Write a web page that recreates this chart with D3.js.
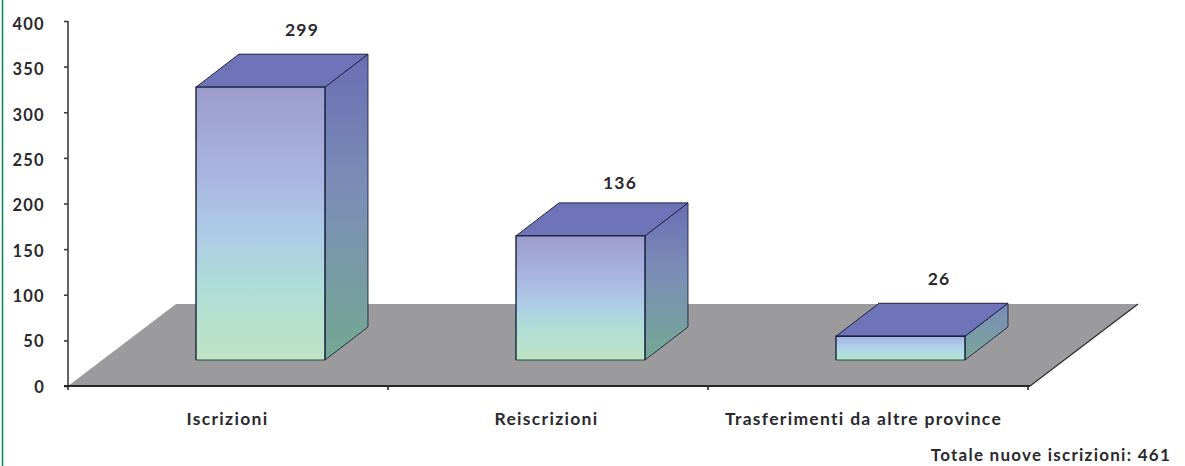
<!DOCTYPE html>
<html><head><meta charset="utf-8">
<script src="https://cdn.jsdelivr.net/npm/d3@7/dist/d3.min.js"></script>
<style>html,body{margin:0;padding:0;background:#fff;overflow:hidden}svg{display:block}
text{font-family:"Lato",sans-serif;fill:#2a2a2e;font-weight:700}</style></head><body>
<svg id="c" width="1185" height="466"></svg>
<script>
const categories=["Iscrizioni","Reiscrizioni","Trasferimenti da altre province"];
const values=[299,136,26];
const yTicks=[0,50,100,150,200,250,300,350,400];
const totalLabel="Totale nuove iscrizioni: 461";

const svg=d3.select("#c");
const axisX0=68,axisX1=1028,base=386,axisTop=21;
const depthX=43,depthY=-33;       // bar depth
const lift=26;                    // front of bars above axis floor
const y=d3.scaleLinear().domain([0,400]).range([base,axisTop]);
const x=d3.scaleBand().domain(categories).range([axisX0,axisX1]);
const barW=x.step()*0.403, barOff=x.step()*0.4;
const k=(base-axisTop)/400;

const defs=svg.append("defs");
const gf=defs.append("linearGradient").attr("id","front").attr("x1",0).attr("x2",0).attr("y1",0).attr("y2",1);
[[0,"#9c9ccb"],[.3,"#a8b3df"],[.55,"#aeccE6"],[.72,"#aedcd8"],[1,"#bfe4c4"]].forEach(s=>gf.append("stop").attr("offset",s[0]).attr("stop-color",s[1]));
const gs=defs.append("linearGradient").attr("id","side").attr("x1",0).attr("x2",0).attr("y1",0).attr("y2",1);
[[0,"#6a6eb4"],[.45,"#7b8eb6"],[1,"#74a892"]].forEach(s=>gs.append("stop").attr("offset",s[0]).attr("stop-color",s[1]));
const gf2=defs.append("linearGradient").attr("id","frontSmall").attr("x1",0).attr("x2",0).attr("y1",0).attr("y2",1);
[[0,"#a3b0e0"],[.5,"#b0d4e8"],[1,"#b4e6d0"]].forEach(s=>gf2.append("stop").attr("offset",s[0]).attr("stop-color",s[1]));
const gs2=defs.append("linearGradient").attr("id","sideSmall").attr("x1",0).attr("x2",0).attr("y1",0).attr("y2",1);
[[0,"#7a8ab8"],[1,"#7aa898"]].forEach(s=>gs2.append("stop").attr("offset",s[0]).attr("stop-color",s[1]));

// left page rule
svg.append("line").attr("x1",2.5).attr("x2",2.5).attr("y1",0).attr("y2",466).attr("stroke","#0f8f55").attr("stroke-width",1.6);

// floor
const floorTop=304;
const fdx=108;
svg.append("path").attr("d",d3.line()([[axisX0,base],[axisX0+fdx,floorTop],[axisX1+fdx+2,floorTop],[axisX1+2,base]])+"Z").attr("fill","#9b9b9e");
svg.append("path").attr("d",d3.line()([[axisX1+2,base],[axisX1+fdx+2,floorTop]])).attr("fill","none").attr("stroke","#2a2a30").attr("stroke-width",1.2);

// axes
const ya=d3.axisLeft(y).tickValues(yTicks).tickSize(4).tickPadding(19);
const yg=svg.append("g").attr("transform",`translate(${axisX0},0)`).call(ya);
yg.selectAll("text").attr("font-size",16.5).style("letter-spacing","1.3px").attr("y",d=>1+d/200);
yg.selectAll("path,line").attr("stroke","#3b3b40").attr("stroke-width",1.6);
yg.select("path").attr("d",`M0,${axisTop}V${base}`);

const xa=svg.append("g");
xa.append("line").attr("x1",axisX0-4).attr("x2",axisX1+2).attr("y1",base).attr("y2",base).attr("stroke","#26262c").attr("stroke-width",1.8);
xa.selectAll("line.t").data(d3.range(categories.length+1)).join("line").attr("class","t")
 .attr("x1",i=>axisX0+i*x.step()).attr("x2",i=>axisX0+i*x.step()).attr("y1",base).attr("y2",base+4).attr("stroke","#26262c").attr("stroke-width",1.6);

// bars
const bars=svg.selectAll("g.bar").data(values).join("g").attr("class","bar");
bars.each(function(v,i){
  const g=d3.select(this), x0=x(categories[i])+barOff, x1=x0+barW;
  const yb=base-lift, yt=yb-v*k;
  const small=v<50;
  const stroke="#17233f";
  g.append("path").attr("d",d3.line()([[x1,yb],[x1+depthX,yb+depthY],[x1+depthX,yt+depthY],[x1,yt]])+"Z")
   .attr("fill",small?"url(#sideSmall)":"url(#side)").attr("stroke","#22304a").attr("stroke-width",1);
  g.append("path").attr("d",d3.line()([[x0,yt],[x0+depthX,yt+depthY],[x1+depthX,yt+depthY],[x1,yt]])+"Z")
   .attr("fill","#6f74b8").attr("stroke",stroke).attr("stroke-width",1);
  g.append("rect").attr("x",x0).attr("y",yt).attr("width",barW).attr("height",yb-yt)
   .attr("fill",small?"url(#frontSmall)":"url(#front)").attr("stroke","none");
  g.append("path").attr("d",`M${x0},${yb}V${yt}H${x1}V${yb}`).attr("fill","none").attr("stroke",stroke).attr("stroke-width",1.4);
  g.append("path").attr("d",`M${x0},${yb}H${x1}`).attr("fill","none").attr("stroke","#23503f").attr("stroke-width",1.2);
  g.append("text").attr("x",x0+[106,104,103][i]).attr("y",yt+[-51,-47,-51][i]).attr("text-anchor","middle")
   .attr("font-size",17.5).style("letter-spacing","1.2px").text(v);
});

// category labels
const labelX=[227.5,546.5,863.5];
svg.selectAll("text.cat").data(categories).join("text").attr("class","cat")
 .attr("x",(d,i)=>labelX[i]).attr("y",425).attr("text-anchor","middle").attr("font-size",17.5).style("letter-spacing","1.3px").text(d=>d);
svg.append("text").attr("x",1171).attr("y",461).attr("text-anchor","end").attr("font-size",17).style("letter-spacing","1.25px").text(totalLabel);
</script></body></html>
